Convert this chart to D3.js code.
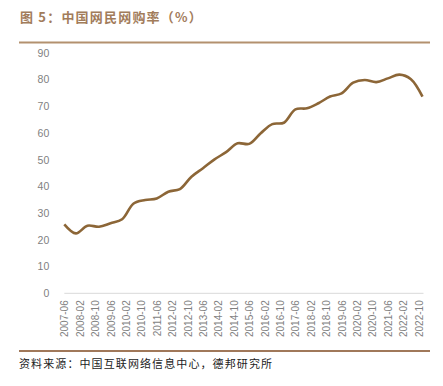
<!DOCTYPE html>
<html>
<head>
<meta charset="utf-8">
<script src="https://cdn.jsdelivr.net/npm/d3@7/dist/d3.min.js"></script>
<style>
  body { margin: 0; background: #fff; }
  svg { display: block; }
</style>
</head>
<body>
<div id="chart"></div>
<script>
// semiannual CNNIC survey points
const dates = ["2007-06","2007-12","2008-06","2008-12","2009-06","2009-12","2010-06","2010-12",
    "2011-06","2011-12","2012-06","2012-12","2013-06","2013-12","2014-06","2014-12",
    "2015-06","2015-12","2016-06","2016-12","2017-06","2017-12","2018-06","2018-12",
    "2019-06","2019-12","2020-06","2020-12","2021-06","2021-12","2022-06","2022-12"];
const rates = [25.8, 22.4, 25.3, 24.9, 26.2, 27.7, 33.6, 34.9,
    35.5, 38.0, 39.0, 43.6, 46.8, 50.1, 52.8, 56.1,
    55.9, 59.9, 63.3, 63.8, 68.8, 69.2, 71.1, 73.6,
    74.8, 78.8, 79.8, 79.0, 80.4, 81.8, 80.1, 73.6];
const xLabels = ["2007-06","2008-02","2008-10","2009-06","2010-02","2010-10","2011-06","2012-02",
    "2012-10","2013-06","2014-02","2014-10","2015-06","2016-02","2016-10","2017-06",
    "2018-02","2018-10","2019-06","2020-02","2020-10","2021-06","2022-02","2022-10"];
const yTicks = [0, 10, 20, 30, 40, 50, 60, 70, 80, 90];

const width = 443, height = 386;
const margin = {top: 52.7, right: 20.5, bottom: 92.7, left: 64.3};
const parse = d3.timeParse("%Y-%m");

const svg = d3.select("#chart").append("svg")
    .attr("width", width)
    .attr("height", height);

// title + rule
svg.append("text")
    .attr("x", 20).attr("y", 22)
    .attr("font-family", "'Noto Sans CJK SC', sans-serif")
    .attr("font-size", 13).attr("font-weight", "bold")
    .attr("letter-spacing", 1.2)
    .attr("fill", "#a27c5b")
    .text("图 5：中国网民网购率（%）");
svg.append("line")
    .attr("x1", 19).attr("x2", 430).attr("y1", 42.5).attr("y2", 42.5)
    .attr("stroke", "#b3916f").attr("stroke-width", 2);

const x = d3.scaleTime()
    .domain([parse(dates[0]), parse(dates[dates.length - 1])])
    .range([margin.left, width - margin.right]);
const y = d3.scaleLinear()
    .domain([0, 90])
    .range([height - margin.bottom, margin.top]);

// y axis (labels only)
const yAxis = svg.append("g")
    .attr("transform", "translate(" + (margin.left - 15) + ",0)")
    .call(d3.axisLeft(y).tickValues(yTicks).tickSize(0).tickPadding(0));
yAxis.select(".domain").remove();
yAxis.selectAll("text")
    .attr("font-family", "'Liberation Sans', Arial, sans-serif")
    .attr("font-size", 10.5)
    .attr("fill", "#7f7f7f");

// x axis
const xAxis = svg.append("g")
    .attr("transform", "translate(0," + y(0) + ")")
    .call(d3.axisBottom(x).tickValues(xLabels.map(parse)).tickSize(0)
        .tickFormat(d3.timeFormat("%Y-%m")));
xAxis.select(".domain")
    .attr("d", "M" + margin.left + ",0H" + (width - margin.right + 1))
    .attr("stroke", "#d9d9d9");
xAxis.selectAll("text")
    .attr("font-family", "'Liberation Sans', Arial, sans-serif")
    .attr("font-size", 10)
    .attr("fill", "#7f7f7f")
    .attr("text-anchor", "end")
    .attr("transform", "rotate(-90)")
    .attr("x", -7).attr("y", 0).attr("dy", "0.35em");

// line
const line = d3.line()
    .x((d, i) => x(parse(dates[i])))
    .y(d => y(d))
    .curve(d3.curveCatmullRom.alpha(0.5));
svg.append("path")
    .datum(rates)
    .attr("fill", "none")
    .attr("stroke", "#8c6637")
    .attr("stroke-width", 2.6)
    .attr("stroke-linejoin", "round")
    .attr("d", line);

// footer
svg.append("line")
    .attr("x1", 19).attr("x2", 430).attr("y1", 351).attr("y2", 351)
    .attr("stroke", "#a0785a").attr("stroke-width", 2);
svg.append("text")
    .attr("x", 19).attr("y", 368)
    .attr("font-family", "'Noto Sans CJK SC', sans-serif")
    .attr("font-size", 11)
    .attr("letter-spacing", 1.1)
    .attr("fill", "#222")
    .text("资料来源：中国互联网络信息中心，德邦研究所");
</script>
</body>
</html>
